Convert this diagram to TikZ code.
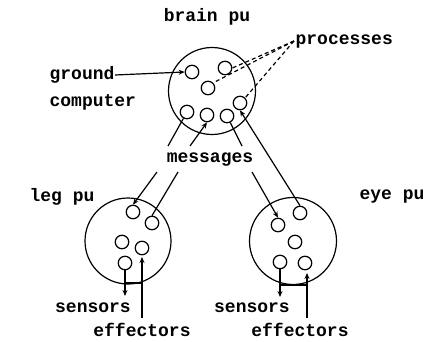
\documentclass[tikz,border=0pt]{standalone}
\usepackage{fontspec}
\setmonofont{Liberation Mono}
\usetikzlibrary{arrows.meta}
\begin{document}
\begin{tikzpicture}[x=1pt,y=-1pt,line width=1.2pt,
  pu/.style={circle,draw,inner sep=0pt,minimum size=87pt},
  proc/.style={circle,draw,inner sep=0pt,minimum size=13.5pt},
  lbl/.style={font=\ttfamily\bfseries\fontsize{18}{20}\selectfont,inner sep=0pt},
  arr/.style={-{Stealth[length=6pt,width=5pt]}},
  dsh/.style={dash pattern=on 4pt off 3pt}]
\useasboundingbox (0,0) rectangle (436,342);
% processing units
\node[pu] (brain) at (212,91) {};
\node[pu,minimum size=86pt] (leg) at (128,241) {};
\node[pu] (eye) at (293,241) {};
% brain processes
\node[proc] (b1) at (192,72) {};
\node[proc] (b2) at (225,68) {};
\node[proc] (b3) at (208,88) {};
\node[proc] (b4) at (187,112) {};
\node[proc] (b5) at (207,115) {};
\node[proc] (b6) at (227,116) {};
\node[proc] (b7) at (240,103) {};
% leg processes
\node[proc] (l1) at (133,212) {};
\node[proc] (l2) at (152,223) {};
\node[proc] (l3) at (122,242) {};
\node[proc] (l4) at (142,248) {};
\node[proc] (l5) at (125,263) {};
% eye processes
\node[proc] (e1) at (278,225) {};
\node[proc] (e2) at (300,213) {};
\node[proc] (e3) at (295,242) {};
\node[proc] (e4) at (280,262) {};
\node[proc] (e5) at (305,263) {};
% labels
\node[lbl] (tbrain) at (207,17) {brain pu};
\node[lbl,anchor=west] (tproc) at (295,42) {processes};
\node[lbl,anchor=west] (tground) at (49,75) {ground};
\node[lbl,anchor=west] (tcomp) at (49,102) {computer};
\node[lbl] (tmsg) at (210,160) {messages};
\node[lbl] (tleg) at (62,197) {leg pu};
\node[lbl] (teye) at (392,197) {eye pu};
\node[lbl] (tls) at (93,308) {sensors};
\node[lbl] (tle) at (142,330) {effectors};
\node[lbl] (tes) at (252,308) {sensors};
\node[lbl] (tee) at (300,330) {effectors};
% ground computer
\draw[arr] (tground.east) -- (b1.west);
% processes (dashed)
\coordinate (p0) at (294,41);
\draw[dsh] (p0) -- (b2.east);
\draw[dsh] (p0) -- (b3.north east);
\draw[dsh] (p0) -- (b7.north east);
% messages
\coordinate (m1) at (168,146);
\coordinate (m2) at (190,146);
\coordinate (m3) at (242,146);
\coordinate (m4) at (157,172);
\coordinate (m5) at (178,172);
\coordinate (m6) at (252,172);
\draw (b4) -- (m1);
\draw[arr] (m4) -- (l1.north);
\draw (l2.north) -- (m5);
\draw[arr] (m2) -- (b5.south);
\draw (b6) -- (m3);
\draw[arr] (m6) -- (e1.north);
\draw[arr] (e2.north) -- (b7.south);
% leg sensors / effectors
\coordinate (ls) at (125,296);
\coordinate (le) at (142,318);
\draw[arr] (l5.south) -- (ls);
\draw (125,283) -- (142,283);
\draw[arr] (le) -- (142,257);
% eye sensors / effectors
\coordinate (es) at (280,297);
\coordinate (ee) at (307,318);
\draw[arr] (e4.south) -- (es);
\draw (280,285) -- (307,285);
\draw[arr] (ee) -- (307,273);
\end{tikzpicture}
\end{document}
